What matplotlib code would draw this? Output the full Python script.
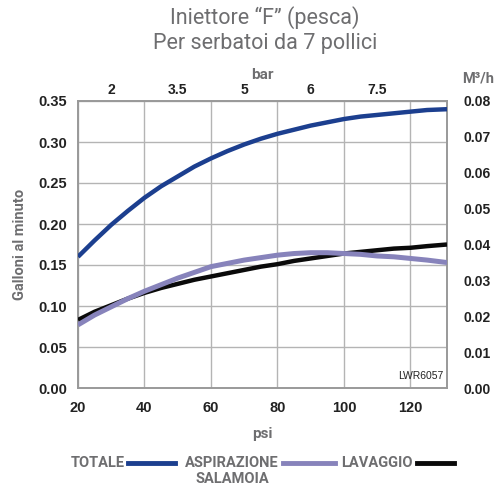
import matplotlib
matplotlib.use("Agg")
import matplotlib.pyplot as plt
from matplotlib.lines import Line2D

psi = [20, 25, 30, 35, 40, 45, 50, 55, 60, 65, 70, 75, 80, 85, 90, 95, 100, 105, 110, 115, 120, 125, 131]
totale = [0.160, 0.180, 0.199, 0.216, 0.232, 0.246, 0.258, 0.270, 0.280, 0.289, 0.297, 0.304,
          0.310, 0.315, 0.320, 0.324, 0.328, 0.331, 0.333, 0.335, 0.337, 0.339, 0.340]
aspirazione = [0.077, 0.089, 0.099, 0.109, 0.118, 0.126, 0.134, 0.141, 0.148, 0.152, 0.156, 0.159,
               0.162, 0.164, 0.165, 0.165, 0.164, 0.163, 0.161, 0.160, 0.158, 0.156, 0.153]
lavaggio = [0.083, 0.093, 0.101, 0.109, 0.116, 0.122, 0.127, 0.132, 0.136, 0.140, 0.144, 0.148,
            0.151, 0.155, 0.158, 0.161, 0.164, 0.166, 0.168, 0.170, 0.171, 0.173, 0.175]

psi_ticks = [20, 40, 60, 80, 100, 120]
gpm_ticks = [0.00, 0.05, 0.10, 0.15, 0.20, 0.25, 0.30, 0.35]
bar_pos = [30, 50, 70, 90, 110]
bar_labels = ["2", "3.5", "5", "6", "7.5"]
m3h_ticks = [0.00, 0.01, 0.02, 0.03, 0.04, 0.05, 0.06, 0.07, 0.08]

c_blue = "#1c3f8f"
c_purple = "#8783bb"
c_black = "#0a0a0a"
c_grid = "#b4b4b4"
c_gray = "#6e6e70"
tick_font = ["Liberation Sans Narrow", "Liberation Sans", "DejaVu Sans"]
lab_font = ["Roboto", "DejaVu Sans"]

fig = plt.figure(figsize=(4.97, 4.86), dpi=100)
ax = fig.add_axes([78/497, 1-388/486, (447-78)/497, (388-101)/486])

ax.plot(psi, totale, color=c_blue, lw=3.2, solid_capstyle="butt", zorder=3)
ax.plot(psi, lavaggio, color=c_black, lw=3.2, solid_capstyle="butt", zorder=3)
ax.plot(psi, aspirazione, color=c_purple, lw=3.6, solid_capstyle="butt", zorder=4)

ax.set_xlim(20, 131)
ax.set_ylim(0, 0.35)
ax.set_xticks(psi_ticks)
ax.set_yticks(gpm_ticks)
ax.set_xticklabels([str(v) for v in psi_ticks], fontfamily=tick_font, fontweight="bold", fontsize=10.5, color="#222")
ax.set_yticklabels(["%.2f" % v for v in gpm_ticks], fontfamily=tick_font, fontweight="bold", fontsize=10.5, color="#222")
ax.tick_params(axis="both", length=0, pad=8)
ax.tick_params(axis="x", pad=9)
ax.grid(True, color=c_grid, lw=1.0)
ax.set_axisbelow(True)
for s in ax.spines.values():
    s.set_color("#999999")
    s.set_linewidth(1.4)

ax.set_xlabel("psi", fontfamily=lab_font, fontweight="bold", fontsize=11, color=c_gray, labelpad=9)
ax.set_ylabel("Galloni al minuto", fontfamily=lab_font, fontweight="bold", fontsize=10.5, color=c_gray, labelpad=8)

axt = ax.twiny()
axt.set_xlim(ax.get_xlim())
axt.set_xticks(bar_pos)
axt.set_xticklabels(bar_labels, fontfamily=tick_font, fontweight="bold", fontsize=10, color="#222")
axt.tick_params(axis="x", length=0, pad=3)
axt.set_xlabel("bar", fontfamily=lab_font, fontweight="bold", fontsize=11, color=c_gray, labelpad=3)
for s in axt.spines.values():
    s.set_visible(False)

axr = ax.twinx()
axr.set_ylim(0, 0.08)
axr.set_yticks(m3h_ticks)
axr.set_yticklabels(["%.2f" % v for v in m3h_ticks], fontfamily=tick_font, fontweight="bold", fontsize=10, color="#222")
axr.tick_params(axis="y", length=0, pad=12)
for s in axr.spines.values():
    s.set_visible(False)

fig.text(478/497, 1-78/486, "M³/h", ha="center", va="center", fontfamily=lab_font, fontweight="bold", fontsize=10.5, color=c_gray)

ax.text(0.99, 0.025, "LWR6057", transform=ax.transAxes, ha="right", va="bottom", fontfamily=tick_font, fontsize=7.5, color="#222")

fig.text(265/497, 1-18/486, "Iniettore “F” (pesca)", ha="center", va="center", fontfamily=lab_font, fontweight="normal", fontsize=15.5, color=c_gray)
fig.text(265/497, 1-44/486, "Per serbatoi da 7 pollici", ha="center", va="center", fontfamily=lab_font, fontweight="normal", fontsize=15.5, color=c_gray)

leg_font = dict(fontfamily=lab_font, fontweight="bold", fontsize=10.5, color=c_gray)
ly = 1 - 463/486
fig.text(125/497, ly, "TOTALE", ha="right", va="center", **leg_font)
fig.add_artist(Line2D([128/497, 175/497], [ly, ly], color=c_blue, lw=3.5, transform=fig.transFigure))
fig.text(232/497, ly, "ASPIRAZIONE", ha="center", va="center", **leg_font)
fig.text(232/497, 1-479/486, "SALAMOIA", ha="center", va="center", **leg_font)
fig.add_artist(Line2D([283/497, 335/497], [ly, ly], color=c_purple, lw=3.5, transform=fig.transFigure))
fig.text(413/497, ly, "LAVAGGIO", ha="right", va="center", **leg_font)
fig.add_artist(Line2D([417/497, 454/497], [ly, ly], color=c_black, lw=3.5, transform=fig.transFigure))

fig.savefig("out.png", dpi=100)
